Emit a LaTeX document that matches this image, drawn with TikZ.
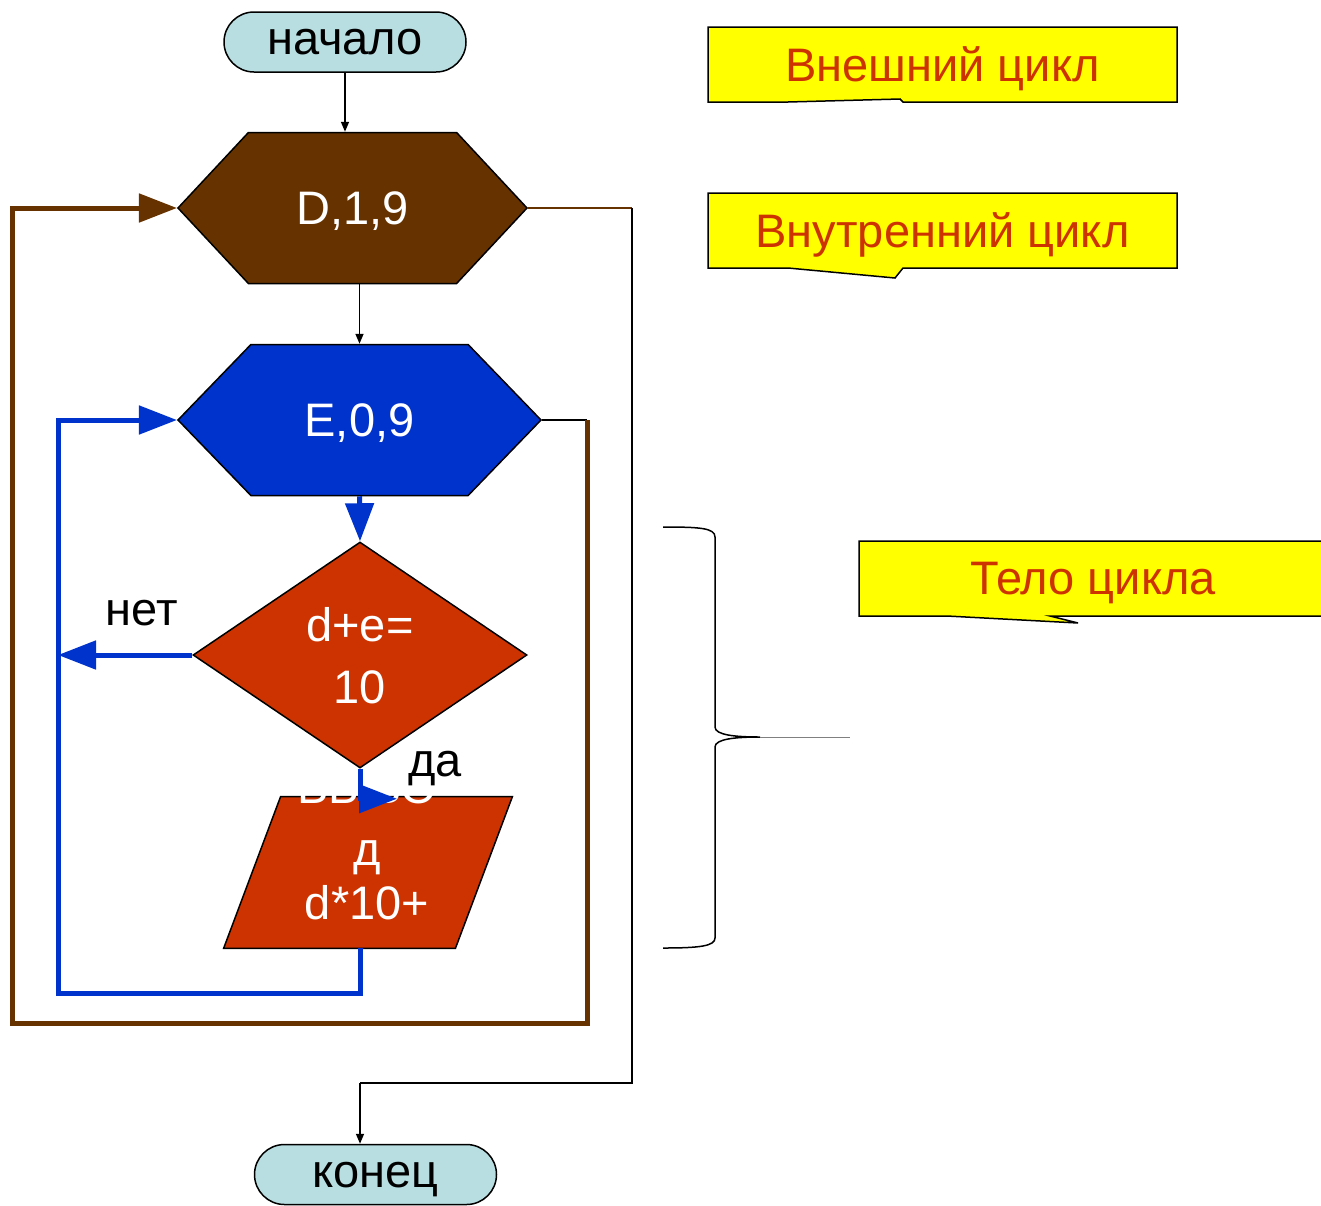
\documentclass[tikz,border=0pt]{standalone}
\usepackage{fontspec}
\setmainfont{Liberation Sans}
\usetikzlibrary{shapes.geometric,shapes.misc,shapes.symbols,arrows.meta}
\definecolor{termc}{RGB}{184,222,225}
\definecolor{outc}{RGB}{102,51,0}
\definecolor{inc}{RGB}{0,51,204}
\definecolor{condc}{RGB}{204,51,0}
\definecolor{notec}{RGB}{255,255,0}

\begin{document}
\begin{tikzpicture}[x=0.5pt,y=-0.5pt,
  every node/.style={font=\fontsize{23.5}{28}\selectfont, inner sep=0pt, text depth=0pt},
  term/.style={draw, rounded rectangle, fill=termc, minimum width=121pt, minimum height=30pt, line width=0.75pt},
  hexa/.style={draw, signal, signal from=nowhere, signal to=west and east, minimum height=75.5pt, text=white, line width=0.75pt},
  cond/.style={draw, diamond, fill=condc, text=white, align=center, line width=0.75pt},
  io/.style={fill=condc, draw, line width=0.75pt},
  note/.style={draw, fill=notec, line width=0.75pt},
  flow/.style={line width=0.75pt, -{Triangle[length=5pt,width=4pt]}},
  inloop/.style={inc, line width=2.5pt, -{Triangle[length=19pt,width=14pt]}},
  outloop/.style={outc, line width=2.5pt, -{Triangle[length=19pt,width=14pt]}}]
\useasboundingbox (0,0) rectangle (1321,1205);

% blocks
\node[term] (1) at (345,42) {начало};
\node[hexa, fill=outc, minimum width=174.5pt, signal pointer angle=94] (2) at (352.5,208) {D,1,9};
\node[hexa, fill=inc, minimum width=181.5pt, signal pointer angle=92] (3) at (359.5,420) {E,0,9};
\node[cond, minimum width=167pt, minimum height=113pt] (4) at (360,655) {d+e=\\[3pt]10};
\node[minimum width=115.5pt, minimum height=75.5pt] (5) at (368,872.5) {};
\path[io] ([xshift=14.25pt]5.north west) -- ([xshift=14.25pt]5.north east)
  -- ([xshift=-14.25pt]5.south east) -- ([xshift=-14.25pt]5.south west) -- cycle;
\node[text=white, align=center] (6) at (367,845) {ВЫВО\\[3pt]д\\[-1pt]d*10+};
\node[term] (7) at (375.5,1174.5) {конец};
\node (8) at (142,613) {нет};
\node (9) at (435,764) {да};

% notes
\filldraw[note] (708,27) -- (1177,27) -- (1177,102) -- (903,102) -- (900,99) -- (788,102) -- (708,102) -- cycle;
\filldraw[note] (708,193) -- (1177,193) -- (1177,268) -- (903,268) -- (895,278) -- (788,268) -- (708,268) -- cycle;
\filldraw[note] (859,541) -- (1330,541) -- (1330,616) -- (1050,616) -- (1078,623) -- (947,616) -- (859,616) -- cycle;
\node[text=condc] (10) at (942.5,64.5) {Внешний цикл};
\node[text=condc] (11) at (942.5,230.5) {Внутренний цикл};
\node[text=condc] (12) at (1093,578.5) {Тело цикла};

% brace
\draw[line width=0.75pt] (663,527) .. controls (700,527) and (715,528) .. (715,537) -- (715,727)
  .. controls (715,735) and (735,737) .. (760,737) .. controls (735,737) and (715,739) .. (715,747)
  -- (715,938) .. controls (715,946) and (700,948) .. (663,948);
\draw[line width=0.5pt, gray] (760,737) -- (850,737);

% connectors
\coordinate (a) at (632,208);
\coordinate (b) at (360,1083);
\coordinate (c) at (587,420);
\coordinate (d) at (12,1023);
\coordinate (e) at (58,993);
\draw[flow] (1.south) -- (1.south |- 2.north);
\draw[flow] (3.north |- 2.south) -- (3.north);
\draw[inloop] (3.south) -- (4.north);
\draw[inloop] (4.west) -- (4.west -| e);
\draw[inloop] (4.south) |- ++(37,30);
\draw[inloop] (4.south |- 5.south) |- (e) |- (3.west);
\draw[line width=0.75pt] (3.east) -- (c);
\draw[outloop] (c) |- (d) |- (2.west);
\draw[line width=0.75pt, outc] (2.east) -- (a);
\draw[line width=0.75pt] (a) |- (b);
\draw[flow] (b) -- (b |- 7.north);
\end{tikzpicture}
\end{document}
